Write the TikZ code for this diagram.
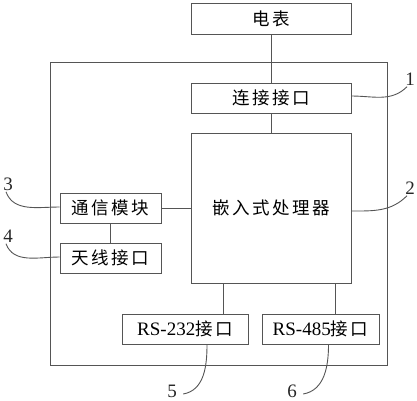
\documentclass[tikz,border=0pt]{standalone}
\usepackage{fontspec}
\setmainfont{Liberation Serif}
\newfontfamily\cjk[LetterSpace=14]{Noto Sans CJK SC}
\usetikzlibrary{positioning,calc}
\definecolor{linegray}{HTML}{555555}

\begin{document}
\begin{tikzpicture}[
    x=1pt, y=-1pt,
    line width=0.9pt,
    font=\fontsize{19}{21}\selectfont,
    box/.style={
        rectangle,
        draw=linegray,
        inner sep=0pt,
        minimum height=30,
        font=\fontsize{17.5}{20}\selectfont\cjk
        },
    wire/.style={
        draw=linegray,
    },
    lbl/.style={
        inner sep=1pt,
        text=black!85,
    },
]
\useasboundingbox (0,0) rectangle (417,400);

% outer frame
\draw[wire] (50,62) rectangle (387,365);

\node[box, minimum width=160, minimum height=31](meter) at (271,18.5){电表};
\node[box, minimum width=160](conn) at (271,98){连接接口};
\node[box, minimum width=160, minimum height=150](cpu) at (271,208){嵌入式处理器};
\node[box, minimum width=101](comm) at (110.5,208){通信模块};
\node[box, minimum width=101](ant) at (110.5,258){天线接口};
\node[box, minimum width=126](rs232) at (185,329){{\rmfamily\fontsize{19}{21}\selectfont RS-232}接口};
\node[box, minimum width=117](rs485) at (320.5,329){{\rmfamily\fontsize{19}{21}\selectfont RS-485}接口};

\draw[wire] (meter.south) -- (conn.north);
\draw[wire] (conn.south) -- (cpu.north);
\draw[wire] (comm.east) -- (cpu.west |- comm.east);
\draw[wire] (comm.south) -- (ant.north);
\draw[wire] ([xshift=-48]cpu.south) -- ([xshift=-48]cpu.south |- rs232.north);
\draw[wire] ([xshift=64]cpu.south) -- ([xshift=64]cpu.south |- rs485.north);

% reference numbers
\node[lbl](n1) at (410,79){1};
\node[lbl](n2) at (410,188){2};
\node[lbl](n3) at (8,184){3};
\node[lbl](n4) at (8,236){4};
\node[lbl](n5) at (172,391){5};
\node[lbl](n6) at (292,391){6};

\draw[wire] ([yshift=2]conn.east) to[out=0,in=225] ([xshift=-3]n1.south);
\draw[wire] ([yshift=-3]cpu.east) to[out=0,in=225] ([xshift=-3]n2.south);
\draw[wire] ([xshift=-2]n3.south) to[out=-70,in=180] ([yshift=1]comm.west);
\draw[wire] ([xshift=-2]n4.south) to[out=-70,in=180] ([yshift=1]ant.west);
\draw[wire] ([xshift=22]rs232.south) to[out=-90,in=10] ([xshift=5,yshift=-3]n5.east);
\draw[wire] ([xshift=8]rs485.south) to[out=-90,in=10] ([xshift=5,yshift=-3]n6.east);

\end{tikzpicture}
\end{document}
